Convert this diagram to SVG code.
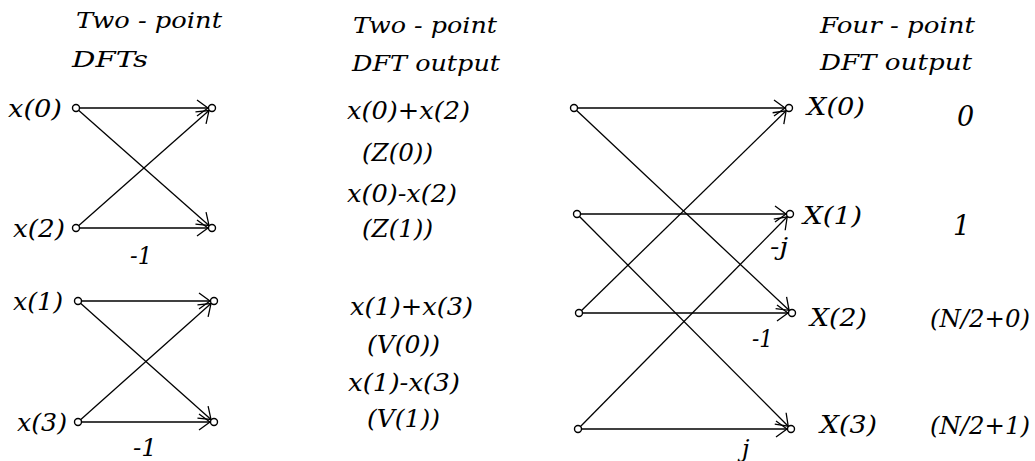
<svg xmlns="http://www.w3.org/2000/svg" width="1035" height="461" viewBox="0 0 1035 461">
<style>
text{font-family:"DejaVu Serif","Liberation Serif",serif;font-style:italic;fill:#000;font-size:24px}
.h{font-size:23px}
.big{font-size:27px}
.c{stroke:#000;stroke-width:1.3;fill:none;marker-end:url(#arr)}
.n{fill:#fff;stroke:#000;stroke-width:1.4}
</style>
<defs>
<marker id="arr" viewBox="-13 -10 15 20" markerWidth="15" markerHeight="20" refX="0" refY="0" orient="auto" markerUnits="userSpaceOnUse">
<path d="M-11,-8 L0,0 L-11,8" fill="none" stroke="#000" stroke-width="1.3"/>
</marker>
</defs>
<rect width="1035" height="461" fill="#fff"/>
<g id="headers">
<text class="h" x="76" y="28" textLength="146" lengthAdjust="spacingAndGlyphs">Two - point</text>
<text class="h" x="72" y="67" textLength="76" lengthAdjust="spacingAndGlyphs">DFTs</text>
<text class="h" x="353" y="33" textLength="144" lengthAdjust="spacingAndGlyphs">Two - point</text>
<text class="h" x="352" y="71" textLength="148" lengthAdjust="spacingAndGlyphs">DFT output</text>
<text class="h" x="820" y="33" textLength="155" lengthAdjust="spacingAndGlyphs">Four - point</text>
<text class="h" x="820" y="70" textLength="152" lengthAdjust="spacingAndGlyphs">DFT output</text>
</g>
<g id="connectors">
<line class="c" x1="76" y1="108" x2="208" y2="108"/>
<line class="c" x1="76" y1="108" x2="209" y2="225.4"/>
<line class="c" x1="76" y1="228" x2="209" y2="110.6"/>
<line class="c" x1="76" y1="228" x2="208" y2="228"/>
<line class="c" x1="78" y1="301" x2="210" y2="301"/>
<line class="c" x1="78" y1="301" x2="211" y2="419.4"/>
<line class="c" x1="78" y1="422" x2="211" y2="303.6"/>
<line class="c" x1="78" y1="422" x2="210" y2="422"/>
<line class="c" x1="574" y1="108" x2="785" y2="108"/>
<line class="c" x1="574" y1="108" x2="789.1" y2="310.3"/>
<line class="c" x1="577" y1="214" x2="786" y2="214"/>
<line class="c" x1="577" y1="214" x2="788.2" y2="426.2"/>
<line class="c" x1="579" y1="313" x2="786.1" y2="110.8"/>
<line class="c" x1="579" y1="313" x2="788" y2="313"/>
<line class="c" x1="578" y1="429" x2="787.2" y2="216.8"/>
<line class="c" x1="578" y1="429" x2="787" y2="429"/>
</g>
<g id="node-x0"><circle class="n" cx="76" cy="108" r="3.5"/><text x="8" y="117" textLength="54" lengthAdjust="spacingAndGlyphs">x(0)</text></g>
<g id="node-x2"><circle class="n" cx="76" cy="228" r="3.5"/><text x="13" y="237" textLength="52" lengthAdjust="spacingAndGlyphs">x(2)</text></g>
<g id="node-x1"><circle class="n" cx="78" cy="301" r="3.5"/><text x="13" y="310" textLength="50" lengthAdjust="spacingAndGlyphs">x(1)</text></g>
<g id="node-x3"><circle class="n" cx="78" cy="422" r="3.5"/><text x="17" y="431" textLength="50" lengthAdjust="spacingAndGlyphs">x(3)</text></g>
<g id="node-z0"><circle class="n" cx="212" cy="108" r="3.5"/></g>
<g id="node-z1"><circle class="n" cx="212" cy="228" r="3.5"/></g>
<g id="node-v0"><circle class="n" cx="214" cy="301" r="3.5"/></g>
<g id="node-v1"><circle class="n" cx="214" cy="422" r="3.5"/></g>
<g id="node-i0"><circle class="n" cx="574" cy="108" r="3.5"/></g>
<g id="node-i1"><circle class="n" cx="577" cy="214" r="3.5"/></g>
<g id="node-i2"><circle class="n" cx="579" cy="313" r="3.5"/></g>
<g id="node-i3"><circle class="n" cx="578" cy="429" r="3.5"/></g>
<g id="node-X0"><circle class="n" cx="789" cy="108" r="3.5"/><text x="807" y="115" textLength="58" lengthAdjust="spacingAndGlyphs">X(0)</text><text class="big" x="957" y="126">0</text></g>
<g id="node-X1"><circle class="n" cx="790" cy="214" r="3.5"/><text x="803" y="224" textLength="59" lengthAdjust="spacingAndGlyphs">X(1)</text><text class="big" x="953" y="235">1</text></g>
<g id="node-X2"><circle class="n" cx="792" cy="313" r="3.5"/><text x="810" y="326" textLength="57" lengthAdjust="spacingAndGlyphs">X(2)</text><text x="930" y="327" textLength="100" lengthAdjust="spacingAndGlyphs">(N/2+0)</text></g>
<g id="node-X3"><circle class="n" cx="791" cy="429" r="3.5"/><text x="820" y="433" textLength="57" lengthAdjust="spacingAndGlyphs">X(3)</text><text x="930" y="434" textLength="100" lengthAdjust="spacingAndGlyphs">(N/2+1)</text></g>
<g id="middle-texts">
<text x="347" y="119" textLength="123" lengthAdjust="spacingAndGlyphs">x(0)+x(2)</text>
<text x="362" y="161" textLength="71" lengthAdjust="spacingAndGlyphs">(Z(0))</text>
<text x="347" y="202" textLength="110" lengthAdjust="spacingAndGlyphs">x(0)-x(2)</text>
<text x="362" y="237" textLength="71" lengthAdjust="spacingAndGlyphs">(Z(1))</text>
<text x="350" y="315" textLength="123" lengthAdjust="spacingAndGlyphs">x(1)+x(3)</text>
<text x="367" y="353" textLength="73" lengthAdjust="spacingAndGlyphs">(V(0))</text>
<text x="348" y="391" textLength="112" lengthAdjust="spacingAndGlyphs">x(1)-x(3)</text>
<text x="367" y="427" textLength="73" lengthAdjust="spacingAndGlyphs">(V(1))</text>
</g>
<g id="weights">
<text x="130" y="264" textLength="22" lengthAdjust="spacingAndGlyphs">-1</text>
<text x="133" y="456" textLength="24" lengthAdjust="spacingAndGlyphs">-1</text>
<text x="770" y="255" textLength="18" lengthAdjust="spacingAndGlyphs">-j</text>
<text x="752" y="347" textLength="21" lengthAdjust="spacingAndGlyphs">-1</text>
<text x="742" y="457">j</text>
</g>
</svg>
